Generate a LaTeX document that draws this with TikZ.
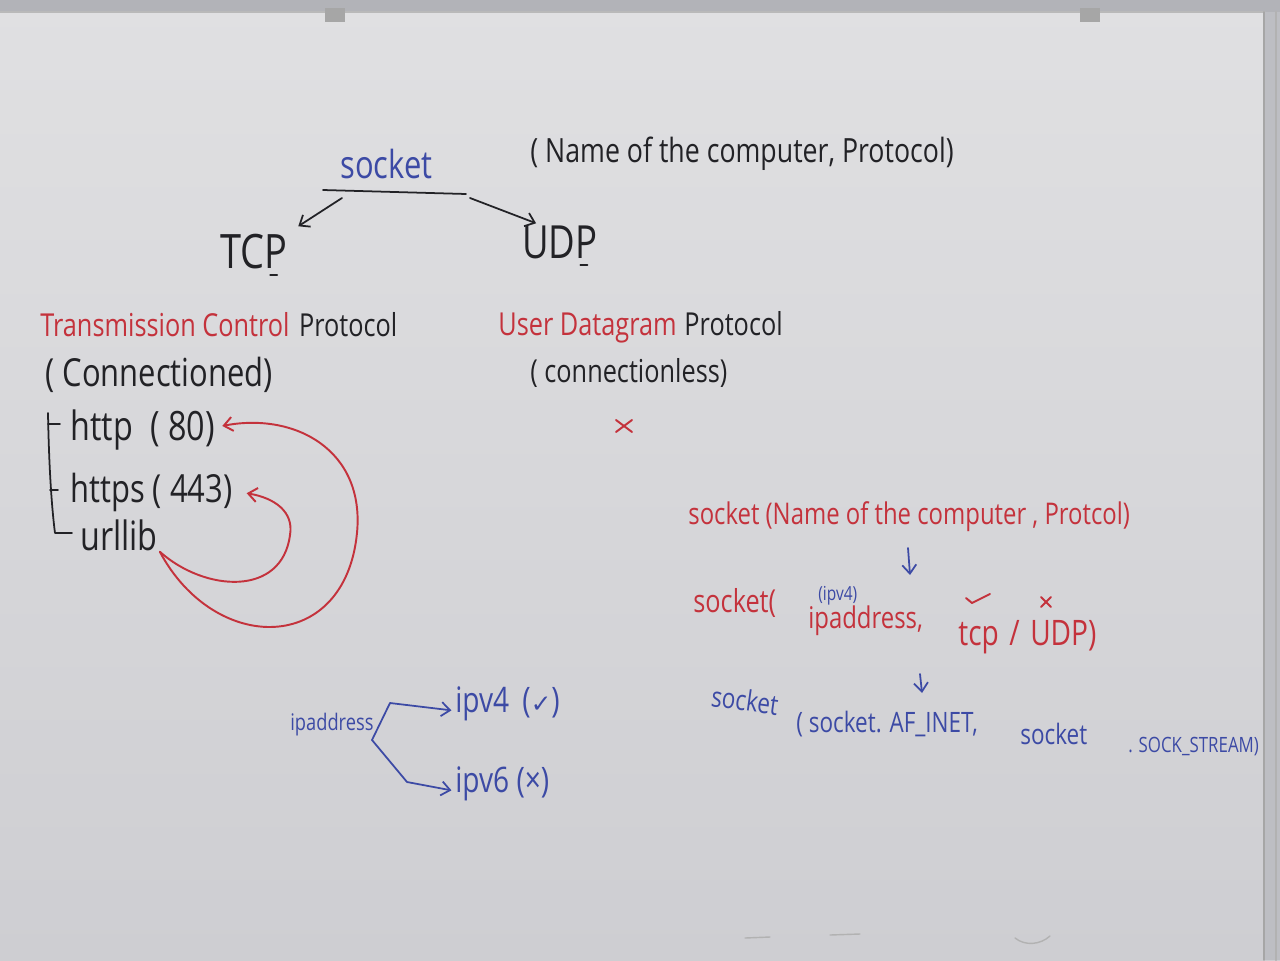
\documentclass[tikz,border=0pt]{standalone}
\usepackage{fontspec}
\newfontfamily\handfont[FakeStretch=0.8]{Open Sans}
\newfontfamily\symbfont{DejaVu Sans}
\usetikzlibrary{arrows.meta,positioning,calc}
\definecolor{boardtop}{RGB}{224,224,226}
\definecolor{boardbot}{RGB}{206,206,210}
\definecolor{frame}{RGB}{178,179,184}
\definecolor{ink}{RGB}{34,34,38}
\definecolor{redink}{RGB}{196,50,60}
\definecolor{blueink}{RGB}{60,74,165}

\begin{document}
\begin{tikzpicture}[
  x=0.02cm, y=-0.02cm,
  >={Straight Barb[length=5pt,width=8pt]},
  line cap=round, line join=round,
  hand/.style={font=\handfont\fontsize{#1}{#1}\selectfont, inner sep=0pt, anchor=base west},
  hand/.default=17,
  blktxt/.style={hand=#1, text=ink},
  redtxt/.style={hand=#1, text=redink},
  bluetxt/.style={hand=#1, text=blueink},
  pen/.style={draw=ink, line width=1pt},
  redpen/.style={draw=redink, line width=1.1pt},
  bluepen/.style={draw=blueink, line width=1pt},
  faint/.style={draw=gray!60, line width=0.8pt}
]
\useasboundingbox (0,0) rectangle (1280,960);

%========== board and frame ==========
\shade[top color=boardtop, bottom color=boardbot] (0,0) rectangle (1280,960);
\fill[frame] (0,0) rectangle (1280,12);
\draw[gray!55, line width=1pt] (0,12) -- (1265,12);
\fill[frame!85!white] (1264,12) rectangle (1280,960);
\draw[gray!70, line width=1pt] (1264,12) -- (1264,960);
\draw[gray!60, line width=1.4pt] (1276,12) -- (1276,960);
\foreach \cx in {335,1090}{\fill[gray!70] (\cx-10,8) rectangle (\cx+10,22);}

%========== socket -> TCP / UDP ==========
\node[bluetxt=22] (sock) at (340,178) {socket};
\node[blktxt=19] (sig) at (530,162) {( Name of the computer, Protocol)};
\coordinate (bar-w) at (323,190);
\coordinate (bar-e) at (466,194);
\draw[pen] (bar-w) -- (bar-e);
\node[blktxt=27] (tcp) at (220,268) {TCP};
\node[blktxt=26] (udp) at (522,258) {UDP};
\draw[pen] ([xshift=-10pt,yshift=-4pt]tcp.base east) -- ++(7,0);
\draw[pen] ([xshift=-10pt,yshift=-4pt]udp.base east) -- ++(7,0);
\coordinate (tcp-from) at (342,198);
\coordinate (udp-from) at (470,198);
\draw[pen,->] (tcp-from) -- ([xshift=6pt,yshift=4pt]tcp.north east);
\draw[pen,->] (udp-from) -- ([xshift=8pt,yshift=1pt]udp.north west);

%========== TCP column ==========
\node[redtxt=18] (tcpname) at (40,336) {Transmission Control};
\node[blktxt=18] (tcpproto) at ([xshift=5pt]tcpname.base east) {Protocol};
\node[blktxt=22] (tcpconn) at (45,386) {( Connectioned)};
\node[blktxt=23] (http) at (70,440) {http\hspace{10pt}( 80)};
\node[blktxt=22] (https) at (70,502) {https ( 443)};
\node[blktxt=23] (urllib) at (80,550) {urllib};
% bracket
\draw[pen] (48,413) .. controls (49,470) and (52,510) .. (55,533) -- (72,533);
\draw[pen] (48,424) -- (60,424);
\draw[pen] (50,490) -- (58,490);
% red loops back to http and https
\draw[redpen,->] ([xshift=1pt,yshift=-1pt]urllib.base east) .. controls (215,655) and (345,655) .. (357,533)
  .. controls (365,450) and (295,412) .. ([xshift=4pt,yshift=8pt]http.base east);
\draw[redpen,->] ([xshift=1pt,yshift=-1pt]urllib.base east) .. controls (205,592) and (282,597) .. (290,535)
  .. controls (294,512) and (275,498) .. ([xshift=8pt,yshift=5pt]https.base east);

%========== UDP column ==========
\node[redtxt=18] (udpname) at (498,335) {User Datagram};
\node[blktxt=18] (udpproto) at ([xshift=4pt]udpname.base east) {Protocol};
\node[blktxt=18] (udpconn) at (530,382) {( connectionless)};
\coordinate (cross) at (624,426);
\draw[redpen] ($(cross)+(-8,-6)$) -- ($(cross)+(8,6)$);
\draw[redpen] ($(cross)+(8,-6)$) -- ($(cross)+(-8,6)$);

%========== ipaddress fork ==========
\node[bluetxt=13] (ipa) at (290,730) {ipaddress};
\node[bluetxt=20] (v4) at (455,712) {ipv4 \,({\symbfont\fontsize{14}{14}\selectfont ✓})};
\node[bluetxt=20] (v6) at (455,792) {ipv6 (×)};
\coordinate (fork) at (372,740);
\draw[bluepen,->] (fork) -- (390,703) -- ([xshift=-2pt,yshift=-4pt]v4.west);
\draw[bluepen,->] (fork) -- (407,782) -- ([xshift=-2pt,yshift=-4pt]v6.west);

%========== socket call, step by step ==========
\node[redtxt=17] (call1) at (688,524) {socket (Name of the computer , Protcol)};
\node[redtxt=18] (call2a) at (693,612) {socket(};
\node[redtxt=17] (call2b) at (808,628) {ipaddress,};
\node[redtxt=20] (call2c) at (958,645) {tcp\hspace{6pt}/\hspace{6pt}UDP)};
\node[bluetxt=11] (v4note) at (818,600) {(ipv4)};
\draw[redpen] (966,598) -- (972,603) -- (990,594);
\coordinate (udpx) at (1046,602);
\draw[redpen] ($(udpx)+(-5,-5)$) -- ($(udpx)+(5,5)$);
\draw[redpen] ($(udpx)+(5,-5)$) -- ($(udpx)+(-5,5)$);
\draw[bluepen,->] (908,548) -- (910,575);
\draw[bluepen,->] (920,674) -- (922,693);
\node[bluetxt=16, rotate=-8] (call3a) at (710,706) {socket};
\node[bluetxt=16] (call3b) at (796,732) {( socket. AF\_INET,};
\node[bluetxt=16] (call3c) at (1020,744) {socket};
\node[bluetxt=12] (call3d) at (1128,752) {. SOCK\_STREAM)};

%========== faint marks at the bottom ==========
\draw[faint] (745,938) -- (770,937);
\draw[faint] (830,935) -- (860,934);
\draw[faint] (1015,938) .. controls (1025,946) and (1040,945) .. (1050,936);
\end{tikzpicture}
\end{document}
